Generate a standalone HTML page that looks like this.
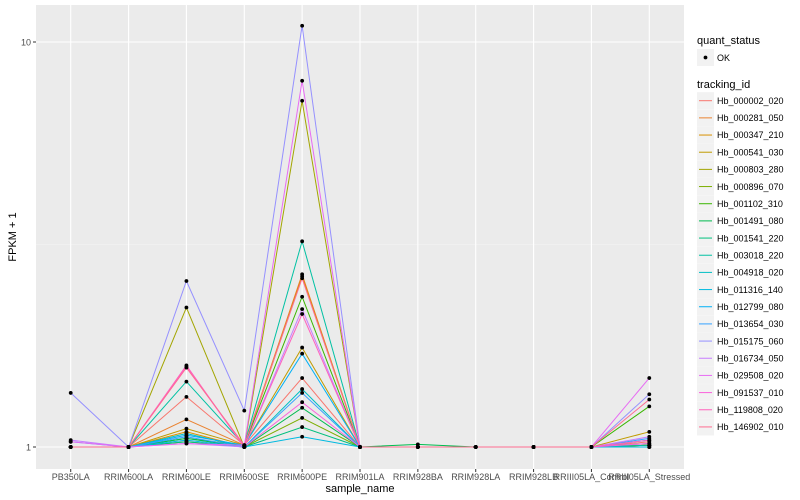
<!DOCTYPE html>
<html><head><meta charset="utf-8"><style>
body{margin:0;background:#fff;font-family:"Liberation Sans",sans-serif}
svg{display:block}
</style></head><body>
<svg id="chart" width="800" height="500" xmlns="http://www.w3.org/2000/svg" font-family="Liberation Sans, sans-serif"></svg>
<script>
const categories=["PB350LA","RRIM600LA","RRIM600LE","RRIM600SE","RRIM600PE","RRIM901LA","RRIM928BA","RRIM928LA","RRIM928LB","RRIII05LA_Control","RRIII05LA_Stressed"];
const seriesNames=["Hb_000002_020","Hb_000281_050","Hb_000347_210","Hb_000541_030","Hb_000803_280","Hb_000896_070","Hb_001102_310","Hb_001491_080","Hb_001541_220","Hb_003018_220","Hb_004918_020","Hb_011316_140","Hb_012799_080","Hb_013654_030","Hb_015175_060","Hb_016734_050","Hb_029508_020","Hb_091537_010","Hb_119808_020","Hb_146902_010"];
const colors=["#F8766D","#EA8331","#D89000","#C09B00","#A3A500","#7CAE00","#39B600","#00BB4E","#00BF7D","#00C1A3","#00BFC4","#00BAE0","#00B0F6","#35A2FF","#9590FF","#C77CFF","#E76BF3","#FA62DB","#FF62BC","#FF6C91"];
// values per sample (index = series)
const valsPB350LA=[1,1,1,1,1,1,1,1,1,1,1,1,1,1.03,1.36,1.04,1.03,1,1,1];
const valsRRIM600LA=[1,1,1,1,1,1,1,1,1,1,1,1,1,1,1,1,1,1,1,1];
const valsRRIM600LE=[1.33,1.17,1.09,1.11,2.21,1.03,1.05,1.05,1.03,1.45,1.08,1.04,1.07,1.06,2.57,1.02,1.02,1.58,1.59,1.57];
const valsRRIM600SE=[1.01,1.01,1,1.01,1,1,1.01,1,1,1.01,1,1,1.01,1,1.23,1,1.01,1,1,1.01];
const valsRRIM600PE=[1.48,2.67,2.64,1.76,7.16,1.18,2.35,1.25,1.12,3.22,1.39,1.06,1.70,1.36,10.97,2.19,8.02,1.29,2.13,2.61];
const valsRRIM901LA=[1,1,1,1,1,1,1,1,1,1,1,1,1,1,1,1,1,1,1,1];
const valsRRIM928BA=[1,1,1,1,1,1,1,1.015,1,1,1,1,1,1,1,1,1,1,1,1];
const valsRRIM928LA=[1,1,1,1,1,1,1,1,1,1,1,1,1,1,1,1,1,1,1,1];
const valsRRIM928LB=[1,1,1,1,1,1,1,1,1,1,1,1,1,1,1,1,1,1,1,1];
const valsControl=[1,1,1,1,1,1,1,1,1,1,1,1,1,1,1,1,1,1,1,1];
const valsStressed=[1.03,1.01,1.01,1.09,1.01,1.01,1.26,1.0,1.0,1.01,1.02,1.0,1.04,1.05,1.35,1.06,1.48,1.02,1.04,1.31];
const yTicks=[1,10];
const yTickLabels=["1","10"];

const byCat=[valsPB350LA,valsRRIM600LA,valsRRIM600LE,valsRRIM600SE,valsRRIM600PE,valsRRIM901LA,valsRRIM928BA,valsRRIM928LA,valsRRIM928LB,valsControl,valsStressed];
const svg=document.getElementById('chart');
const NS="http://www.w3.org/2000/svg";
function mk(tag,attrs,parent){const e=document.createElementNS(NS,tag);for(const k in attrs)e.setAttribute(k,attrs[k]);(parent||svg).appendChild(e);return e;}
const PL=36,PR=684,PT=5,PB=469;
const step=(PR-PL)/(categories.length-1+1.2);
function xs(i){return PL+(0.6+i)*step;}
function ys(v){return 447-405*Math.log10(v);}

const panel=mk('rect',{x:PL,y:PT,width:PR-PL,height:PB-PT,fill:'#EBEBEB'});


[Math.sqrt(10)].forEach(v=>{mk('line',{x1:PL,x2:PR,y1:ys(v),y2:ys(v),stroke:'#F5F5F5','stroke-width':0.6});});
yTicks.forEach((v,i)=>{
  const g=mk('line',{x1:PL,x2:PR,y1:ys(v),y2:ys(v),stroke:'#fff','stroke-width':1.1});
  
  
  mk('line',{x1:PL-3,x2:PL,y1:ys(v),y2:ys(v),stroke:'#333','stroke-width':1});
  const t=mk('text',{x:PL-5,y:ys(v)+3.5,'text-anchor':'end','font-size':'9','font-size-adjust':'none',fill:'#4D4D4D'});
  t.textContent=yTickLabels[i];
  
  
});
categories.forEach((c,i)=>{
  const g=mk('line',{x1:xs(i),x2:xs(i),y1:PT,y2:PB,stroke:'#fff','stroke-width':1.1});
  
  
  mk('line',{x1:xs(i),x2:xs(i),y1:PB,y2:PB+3,stroke:'#333','stroke-width':1});
  const t=mk('text',{x:xs(i),y:PB+11,'text-anchor':'middle','font-size':'9',fill:'#4D4D4D'});
  t.textContent=c;
  
  
});
seriesNames.forEach((s,si)=>{
  const pts=categories.map((c,i)=>xs(i).toFixed(1)+','+ys(byCat[i][si]).toFixed(1)).join(' ');
  const l=mk('polyline',{points:pts,fill:'none',stroke:colors[si],'stroke-width':1});
  
  
});
seriesNames.forEach((s,si)=>{
  categories.forEach((c,i)=>{
    const p=mk('circle',{cx:xs(i),cy:ys(byCat[i][si]),r:1.9,fill:'#000'});
    
    
  });
});
const xt=mk('text',{x:(PL+PR)/2,y:492,'text-anchor':'middle','font-size':'11',fill:'#000'});
xt.textContent='sample_name';


const yt=mk('text',{x:0,y:0,'text-anchor':'middle','font-size':'11',fill:'#000',transform:'translate(16,'+((PT+PB)/2)+') rotate(-90)'});
yt.textContent='FPKM + 1';


const lq=mk('text',{x:697,y:44,'font-size':'11',fill:'#000'});
lq.textContent='quant_status';


mk('rect',{x:697,y:49,width:17,height:17,fill:'#F2F2F2'});
mk('circle',{cx:705.5,cy:57.5,r:1.9,fill:'#000'});
const ok=mk('text',{x:717,y:61,'font-size':'9',fill:'#000'});
ok.textContent='OK';


const lt=mk('text',{x:697,y:88,'font-size':'11',fill:'#000'});
lt.textContent='tracking_id';


seriesNames.forEach((s,si)=>{
  const cy=100.7+si*17.17;
  mk('rect',{x:697,y:cy-8.5,width:17,height:17,fill:'#F2F2F2'});
  mk('line',{x1:699,x2:712,y1:cy,y2:cy,stroke:colors[si],'stroke-width':1});
  const t=mk('text',{x:717,y:cy+3.2,'font-size':'9',fill:'#000'});
  t.textContent=s;
  
  
});
</script>
</body></html>
